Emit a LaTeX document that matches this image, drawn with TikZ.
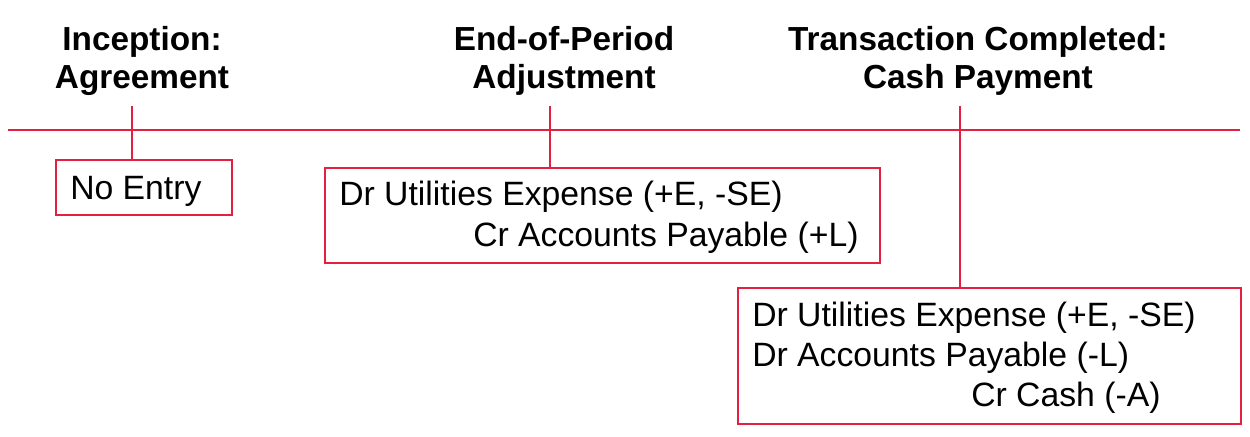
\documentclass[tikz,border=0pt]{standalone}
\usepackage{fontspec}
\setmainfont{Liberation Sans}
\definecolor{tl}{RGB}{228,32,64}
\begin{document}
\begin{tikzpicture}[x=0.75pt,y=-0.75pt,
  title/.style={font=\fontsize{25}{30}\selectfont\bfseries, anchor=base, inner sep=0pt},
  entry/.style={font=\fontsize{25.3}{30}\selectfont, anchor=base west, inner sep=0pt},
  box/.style={draw=tl, line width=1.5pt, rectangle, inner sep=0pt, anchor=north west},
  rule/.style={draw=tl, line width=1.5pt}]
\useasboundingbox (0,0) rectangle (1250,436);
% titles
\node[title] (t1a) at (142,50) {Inception:};
\node[title] (t1b) at (142,88) {Agreement};
\node[title] (t2a) at (564,50) {End-of-Period};
\node[title] (t2b) at (564,88) {Adjustment};
\node[title] (t3a) at (978,50) {Transaction Completed:};
\node[title] (t3b) at (978,88) {Cash Payment};
% boxes
\node[box, minimum width=132pt, minimum height=41.25pt] (b1) at (55,159) {};
\node[box, minimum width=416.25pt, minimum height=71.25pt] (b2) at (324,167) {};
\node[box, minimum width=377.25pt, minimum height=102pt] (b3) at (737,287) {};
% entries
\node[entry] (e1) at (70,199) {No Entry};
\node[entry] (e2a) at (339,205) {Dr Utilities Expense (+E, -SE)};
\node[entry] (e2b) at (473,246) {Cr Accounts Payable (+L)};
\node[entry] (e3a) at (752,326) {Dr Utilities Expense (+E, -SE)};
\node[entry] (e3b) at (752,366) {Dr Accounts Payable (-L)};
\node[entry] (e3c) at (971,406) {Cr Cash (-A)};
% timeline
\coordinate (L) at (8,130);
\coordinate (R) at (1240,130);
\draw[rule] (L) -- (R);
\coordinate (k1) at (132,106);
\coordinate (k2) at (550,106);
\coordinate (k3) at (960,106);
\draw[rule] (k1) -- (k1 |- b1.north);
\draw[rule] (k2) -- (k2 |- b2.north);
\draw[rule] (k3) -- (k3 |- b3.north);
\end{tikzpicture}
\end{document}
